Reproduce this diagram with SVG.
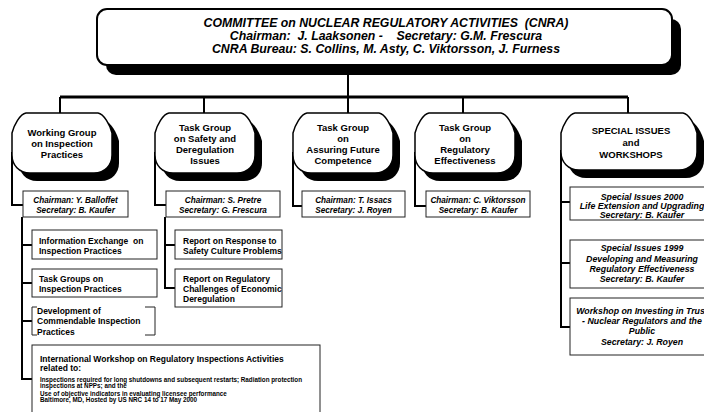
<svg xmlns="http://www.w3.org/2000/svg" xmlns:xlink="http://www.w3.org/1999/xlink" width="704" height="412" viewBox="0 0 704 412">
<style>
.t{font-family:"Liberation Sans",Arial,Helvetica,sans-serif;font-weight:bold;fill:#000}
.hd{font-size:12.3px;font-style:italic;text-anchor:middle;white-space:pre}
.sh{font-size:9.5px;text-anchor:middle}
.ch{font-size:8.2px;font-style:italic;text-anchor:middle}
.sb{font-size:8.5px;white-space:pre}
.si{font-size:8.8px;font-style:italic;text-anchor:middle}
.sm{font-size:6.3px}
.cn{stroke:#000;stroke-width:2;fill:none}
.bar{stroke-width:3}
.bx{fill:#fff;stroke:#222;stroke-width:1}
.shp{fill:#fff;stroke:#000;stroke-width:1.5}
.shd{fill:#000;stroke:none}
</style>
<defs>
<path id="tg" d="M14,0 H86 C92,1 98,12 100,20 V42 C100,52 93,60 82,60 H18 C7,60 0,52 0,42 V20 C2,12 8,1 14,0 Z"/>
<path id="tgw" d="M14,0 H122 C128,1 134,12 136,20 V39 C136,49 129,57 118,57 H18 C7,57 0,49 0,39 V20 C2,12 8,1 14,0 Z"/>
</defs>

<g id="connectors">
<path class="cn" d="M348,75 V97"/>
<path class="cn bar" d="M60,97 H628"/>
<path class="cn" d="M60,97 V113 M204,97 V113 M348,97 V113 M463,97 V113 M628,97 V113"/>
<path class="cn" d="M12,152 V205 H23"/>
<path class="cn" d="M22,217 V379 H32 M22,245 H32 M22,283 H32 M22,321 H32"/>
<path class="cn" d="M155,152 V205 H166"/>
<path class="cn" d="M165,217 V288 H175 M165,245 H175"/>
<path class="cn" d="M293,152 V206 H302"/>
<path class="cn" d="M415,152 V206 H426"/>
<path class="cn" d="M561,150 V327 H570 M561,202 H570 M561,263 H570"/>
</g>

<g id="cnra">
<rect class="shd" x="106" y="19" width="575" height="56" rx="10"/>
<rect x="97" y="9" width="575" height="56" rx="10" fill="#fff" stroke="#000" stroke-width="2"/>
<text class="t hd" x="386" y="26.5">COMMITTEE on NUCLEAR REGULATORY ACTIVITIES  (CNRA)</text>
<text class="t hd" x="386" y="39.5">Chairman:  J. Laaksonen -    Secretary: G.M. Frescura</text>
<text class="t hd" x="386" y="52.5">CNRA Bureau: S. Collins, M. Asty, C. Viktorsson, J. Furness</text>
</g>

<g id="wg-inspection">
<use xlink:href="#tg" class="shd" transform="translate(19,121)"/>
<use xlink:href="#tg" class="shp" transform="translate(12,113)"/>
<text class="t sh" x="62" y="135.5">Working Group</text>
<text class="t sh" x="62" y="146.5">on Inspection</text>
<text class="t sh" x="62" y="157.5">Practices</text>
</g>

<g id="tg-safety">
<use xlink:href="#tg" class="shd" transform="translate(162,121)"/>
<use xlink:href="#tg" class="shp" transform="translate(155,113)"/>
<text class="t sh" x="205" y="130.5">Task Group</text>
<text class="t sh" x="205" y="141.5">on Safety and</text>
<text class="t sh" x="205" y="152.5">Deregulation</text>
<text class="t sh" x="205" y="163.5">Issues</text>
</g>

<g id="tg-competence">
<use xlink:href="#tg" class="shd" transform="translate(300,121)"/>
<use xlink:href="#tg" class="shp" transform="translate(293,113)"/>
<text class="t sh" x="343" y="130.5">Task Group</text>
<text class="t sh" x="343" y="141.5">on</text>
<text class="t sh" x="343" y="152.5">Assuring Future</text>
<text class="t sh" x="343" y="163.5">Competence</text>
</g>

<g id="tg-effectiveness">
<use xlink:href="#tg" class="shd" transform="translate(422,121)"/>
<use xlink:href="#tg" class="shp" transform="translate(415,113)"/>
<text class="t sh" x="465" y="130.5">Task Group</text>
<text class="t sh" x="465" y="141.5">on</text>
<text class="t sh" x="465" y="152.5">Regulatory</text>
<text class="t sh" x="465" y="163.5">Effectiveness</text>
</g>

<g id="special-issues">
<use xlink:href="#tgw" class="shd" transform="translate(568,121)"/>
<use xlink:href="#tgw" class="shp" transform="translate(561,113)"/>
<text class="t sh" x="631" y="133.5">SPECIAL ISSUES</text>
<text class="t sh" x="631" y="145.5">and</text>
<text class="t sh" x="631" y="157.5">WORKSHOPS</text>
</g>

<g id="wg-officers">
<rect class="bx" x="23" y="191" width="105" height="26"/>
<text class="t ch" x="75.5" y="203">Chairman: Y. Balloffet</text>
<text class="t ch" x="75.5" y="213">Secretary: B. Kaufer</text>
</g>
<g id="safety-officers">
<rect class="bx" x="166" y="191" width="114" height="26"/>
<text class="t ch" x="223" y="203">Chairman: S. Pretre</text>
<text class="t ch" x="223" y="213">Secretary: G. Frescura</text>
</g>
<g id="competence-officers">
<rect class="bx" x="302" y="191" width="103" height="26"/>
<text class="t ch" x="353.5" y="203">Chairman: T. Issacs</text>
<text class="t ch" x="353.5" y="213">Secretary: J. Royen</text>
</g>
<g id="effectiveness-officers">
<rect class="bx" x="426" y="191" width="104" height="26"/>
<text class="t ch" x="478" y="203">Chairman: C. Viktorsson</text>
<text class="t ch" x="478" y="213">Secretary: B. Kaufer</text>
</g>

<g id="info-exchange">
<rect class="bx" x="32" y="230" width="125" height="29"/>
<text class="t sb" x="39" y="244">Information Exchange  on</text>
<text class="t sb" x="39" y="254">Inspection Practices</text>
</g>
<g id="task-groups">
<rect class="bx" x="32" y="269" width="125" height="28"/>
<text class="t sb" x="39" y="281.5">Task Groups on</text>
<text class="t sb" x="39" y="291.5">Inspection Practices</text>
</g>
<g id="development">
<path d="M37,307 H32 V335 H37 M145,307 H155 V335 H145" fill="none" stroke="#222" stroke-width="1"/>
<text class="t sb" x="37" y="313.5">Development of</text>
<text class="t sb" x="37" y="324">Commendable Inspection</text>
<text class="t sb" x="37" y="335">Practices</text>
</g>
<g id="intl-workshop">
<rect class="bx" x="32" y="345" width="288" height="80"/>
<text class="t sb" x="40" y="361.5">International Workshop on Regulatory Inspections Activities</text>
<text class="t sb" x="40" y="371">related to:</text>
<text class="t sm" x="40" y="381.5">Inspections required for long shutdowns and subsequent restarts; Radiation protection</text>
<text class="t sm" x="40" y="388">inspections at NPPs; and the</text>
<text class="t sm" x="40" y="395.5">Use of objective indicators in evaluating licensee performance</text>
<text class="t sm" x="40" y="402">Baltimore, MD, Hosted by US NRC 14 to 17 May 2000</text>
</g>

<g id="report-safety-culture">
<rect class="bx" x="175" y="230" width="107" height="29"/>
<text class="t sb" x="183" y="244">Report on Response to</text>
<text class="t sb" x="183" y="254">Safety Culture Problems</text>
</g>
<g id="report-deregulation">
<rect class="bx" x="175" y="269" width="107" height="38"/>
<text class="t sb" x="183" y="282">Report on Regulatory</text>
<text class="t sb" x="183" y="292">Challenges of Economic</text>
<text class="t sb" x="183" y="302">Deregulation</text>
</g>

<g id="special-2000">
<rect class="bx" x="570" y="187" width="145" height="33"/>
<text class="t si" x="642" y="200">Special Issues 2000</text>
<text class="t si" x="642" y="209">Life Extension and Upgrading</text>
<text class="t si" x="642" y="218">Secretary: B. Kaufer</text>
</g>
<g id="special-1999">
<rect class="bx" x="570" y="240" width="145" height="48"/>
<text class="t si" x="642" y="250.5">Special Issues 1999</text>
<text class="t si" x="642" y="261.5">Developing and Measuring</text>
<text class="t si" x="642" y="271.5">Regulatory Effectiveness</text>
<text class="t si" x="642" y="281.5">Secretary: B. Kaufer</text>
</g>
<g id="workshop-trust">
<rect class="bx" x="570" y="298" width="145" height="57"/>
<text class="t si" x="642" y="314">Workshop on Investing in Trust</text>
<text class="t si" x="642" y="324">- Nuclear Regulators and the</text>
<text class="t si" x="642" y="334">Public</text>
<text class="t si" x="642" y="345">Secretary: J. Royen</text>
</g>
</svg>
